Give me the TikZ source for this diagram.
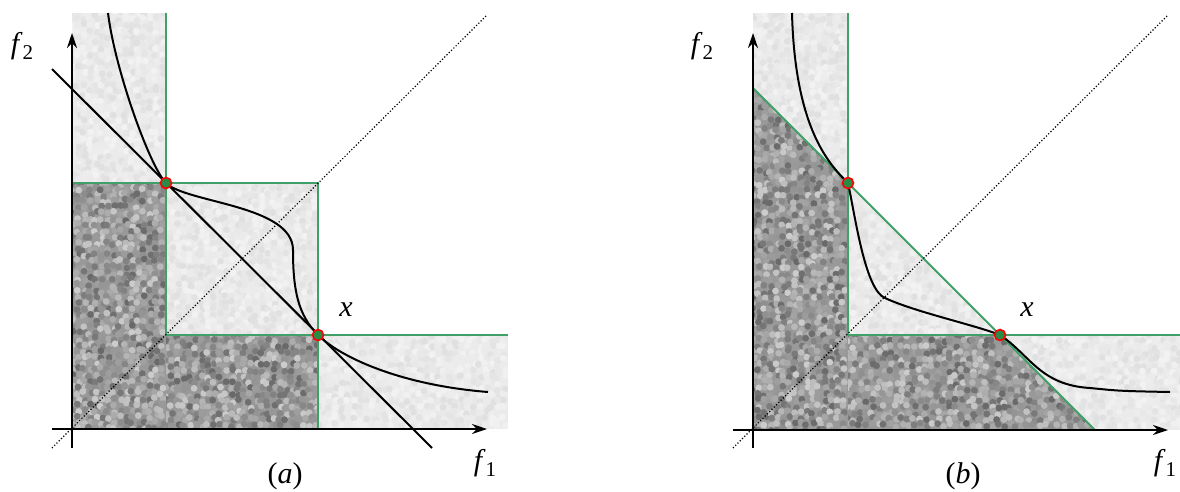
\documentclass[tikz,border=0pt]{standalone}
\usepackage{fontspec}
\setmainfont{Liberation Serif}[ItalicFont={Liberation Serif Italic}]
\usetikzlibrary{arrows.meta}
\definecolor{edgegreen}{RGB}{64,160,104}
\definecolor{dotgreen}{RGB}{40,140,70}
% speckled grey texture over a box (x0,y0,x1,y1,base,spread)
\newcommand{\grain}[6]{%
  \pgfmathtruncatemacro{\gni}{(#3-#1)/6}%
  \pgfmathtruncatemacro{\gnj}{(#4-#2)/6}%
  \foreach \gi in {0,...,\gni}{%
    \foreach \gj in {0,...,\gnj}{%
      \pgfmathtruncatemacro{\gv}{#5+#6*rand}%
      \fill[black!\gv] ({#1+6*\gi+2*rand},{#2+6*\gj+2*rand}) circle (3.4);
    }}}
\newcommand{\fsub}[2]{\textit{#1}\raisebox{-0.2em}{\fontsize{21}{21}\selectfont #2}}

\begin{document}
\begin{tikzpicture}[x=1pt,y=-1pt,>=Stealth,font=\rmfamily\fontsize{30}{36}\selectfont,
  edge/.style={draw=edgegreen,line width=1.8pt},
  front/.style={line width=2pt},
  diag/.style={dotted,line width=1.2pt},
  axis/.style={-{Stealth[length=15pt,width=10pt]},line width=2.2pt},
  hit/.style={circle,fill=dotgreen,draw=red,line width=1.6pt,minimum size=11pt,inner sep=0pt}]
\useasboundingbox (0,0) rectangle (1180,491);
\pgfmathsetseed{17}
% ---------------- (a) ----------------
\coordinate (oa) at (72,429);
\coordinate (pa) at (166,183);
\coordinate (qa) at (318,335);
% light areas
\fill[black!8] (72,13) rectangle (166,183);
\fill[black!8] (pa) rectangle (qa);
\fill[black!8] (qa) rectangle (508,429);
\begin{scope}\clip (72,13) rectangle (166,183); \grain{72}{13}{166}{183}{9}{4}\end{scope}
\begin{scope}\clip (pa) rectangle (qa); \grain{166}{183}{318}{335}{9}{4}\end{scope}
\begin{scope}\clip (qa) rectangle (508,429); \grain{318}{335}{508}{429}{9}{4}\end{scope}
% dark areas
\fill[black!40] (72,183) rectangle (166,429);
\fill[black!40] (166,335) rectangle (318,429);
\begin{scope}\clip (72,183) rectangle (166,429); \grain{72}{183}{166}{429}{40}{20}\end{scope}
\begin{scope}\clip (166,335) rectangle (318,429); \grain{166}{335}{318}{429}{40}{20}\end{scope}
% green edges
\draw[edge] (166,13) -- (166,335) -- (508,335);
\draw[edge] (72,183) -- (318,183) -- (318,429);
% diagonal and front line
\draw[diag] (52,448) -- (487,15);
\draw[front] (52,69) -- (432,448);
\draw[front] (108,13) .. controls (115,70) and (150,167) .. (pa)
  .. controls (186,203) and (293,205) .. (293,250)
  .. controls (293,290) and (298,315) .. (qa)
  .. controls (340,357) and (400,385) .. (488,392);
% axes
\draw[axis] (52,429) -- (487,429);
\draw[axis] (72,448) -- (72,33);
\node[hit] (ma1) at (pa) {};
\node[hit] (ma2) at (qa) {};
\node (xa) at (346,310) {\textit{x}};
\node (fa2) at (22,46) {\fsub{f}{2}};
\node (fa1) at (485,463) {\fsub{f}{1}};
\node (capa) at (285,476) {(\textit{a})};
% ---------------- (b) ----------------
\coordinate (ob) at (753,430);
\coordinate (pb) at (848,183);
\coordinate (qb) at (1000,335);
% light areas
\fill[black!8] (753,13) rectangle (848,430);
\fill[black!8] (753,335) rectangle (1180,430);
\fill[black!8] (pb) -- (848,335) -- (qb) -- cycle;
\begin{scope}\clip (753,13) -- (848,13) -- (pb) -- (753,88) -- cycle; \grain{753}{13}{848}{183}{9}{4}\end{scope}
\begin{scope}\clip (pb) -- (848,335) -- (qb) -- cycle; \grain{848}{183}{1000}{335}{9}{4}\end{scope}
\begin{scope}\clip (qb) -- (1180,335) -- (1180,430) -- (1095,430) -- cycle; \grain{1000}{335}{1180}{430}{9}{4}\end{scope}
% dark area
\fill[black!40] (753,88) -- (pb) -- (848,335) -- (qb) -- (1095,430) -- (ob) -- cycle;
\begin{scope}\clip (753,88) -- (pb) -- (848,335) -- (qb) -- (1095,430) -- (ob) -- cycle;
  \grain{753}{88}{848}{430}{40}{20}
\end{scope}
\begin{scope}\clip (848,335) -- (qb) -- (1095,430) -- (848,430) -- cycle;
  \grain{848}{335}{1095}{430}{40}{20}
\end{scope}
% green edges
\draw[edge] (848,13) -- (848,335) -- (1180,335);
\draw[edge] (753,88) -- (1095,430);
% diagonal
\draw[diag] (733,448) -- (1168,15);
\draw[front] (792,13) .. controls (795,130) and (830,165) .. (pb)
  .. controls (855,215) and (865,290) .. (885,298)
  .. controls (915,312) and (975,325) .. (qb)
  .. controls (1030,355) and (1040,385) .. (1090,388)
  .. controls (1120,391) .. (1170,392);
% axes
\draw[axis] (733,430) -- (1168,430);
\draw[axis] (753,448) -- (753,33);
\node[hit] (mb1) at (pb) {};
\node[hit] (mb2) at (qb) {};
\node (xb) at (1027,310) {\textit{x}};
\node (fb2) at (702,46) {\fsub{f}{2}};
\node (fb1) at (1165,463) {\fsub{f}{1}};
\node (capb) at (963,476) {(\textit{b})};
\end{tikzpicture}
\end{document}
